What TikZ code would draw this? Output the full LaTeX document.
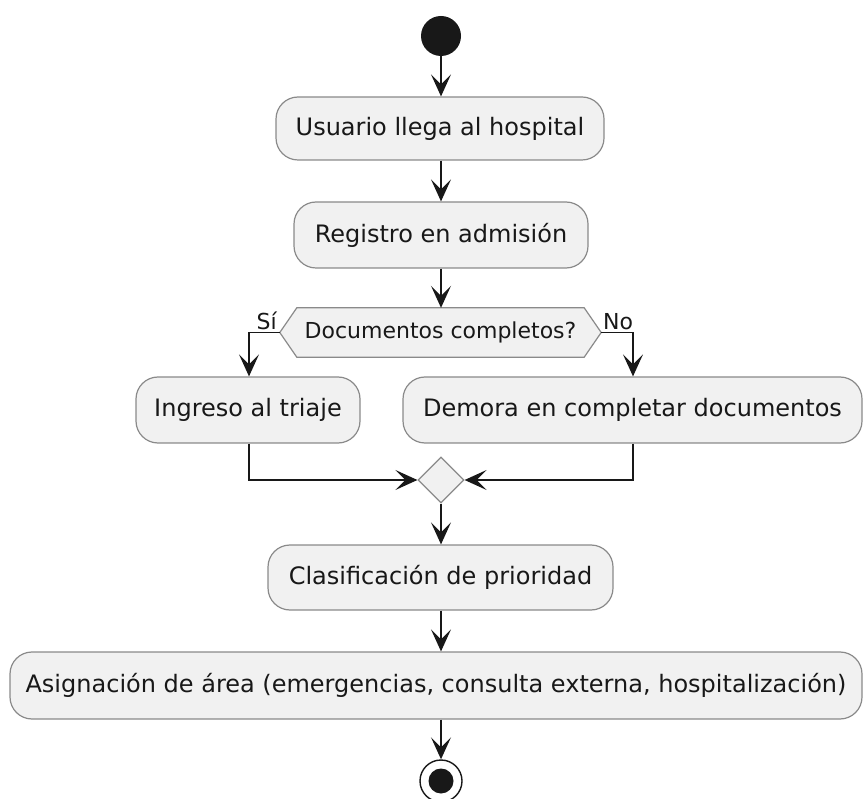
\documentclass[tikz,border=0pt]{standalone}
\usepackage{fontspec}
\setmainfont{DejaVu Sans}
\usetikzlibrary{arrows.meta,calc,shapes.geometric}
\definecolor{boxfill}{HTML}{F1F1F1}
\definecolor{boxline}{HTML}{8A8A8A}
\definecolor{ink}{HTML}{181818}
\tikzset{
  act/.style={draw=boxline, fill=boxfill, line width=1.2pt, rounded corners=22pt, font=\fontsize{24}{28}\selectfont, text=ink, inner sep=0pt},
  flow/.style={draw=ink, line width=1.6pt, -{Stealth[length=22pt,width=20pt,inset=10pt]}},
  lbl/.style={font=\fontsize{22}{26}\selectfont, text=ink, inner sep=0pt}
}
\begin{document}
\begin{tikzpicture}[x=1pt,y=-1pt]
\useasboundingbox (0,0) rectangle (865,799);
% start
\node (start) [circle, fill=ink, minimum size=40pt, inner sep=0pt] at (441,36) {};
% boxes
\node (b1) [act, minimum width=328pt, minimum height=63pt] at (440,128.5) {Usuario llega al hospital};
\node (b2) [act, minimum width=294pt, minimum height=66pt] at (441,235) {Registro en admisión};
% decision hexagon
\node (dec) [lbl, minimum width=321pt, minimum height=49pt] at (440.5,332.5) {};
\draw[draw=boxline, fill=boxfill, line width=1.2pt]
  (dec.west) -- ($(dec.north west)+(17,0)$) -- ($(dec.north east)+(-17,0)$) -- (dec.east)
  -- ($(dec.south east)+(-17,0)$) -- ($(dec.south west)+(17,0)$) -- cycle;
\node (dectext) [lbl] at (dec) {Documentos completos?};
\node (b3) [act, minimum width=224pt, minimum height=66pt] at (248,410) {Ingreso al triaje};
\node (b4) [act, minimum width=459pt, minimum height=66pt] at (632.5,410) {Demora en completar documentos};
\node (merge) [diamond, aspect=1, draw=boxline, fill=boxfill, line width=1.2pt, minimum size=46pt, inner sep=0pt] at (441,480) {};
\node (b5) [act, minimum width=345pt, minimum height=65pt] at (440.5,577.5) {Clasificación de prioridad};
\node (b6) [act, minimum width=852pt, minimum height=67pt] at (436,685.5) {Asignación de área (emergencias, consulta externa, hospitalización)};
% end
\node (end) [circle, draw=ink, fill=white, line width=1.4pt, minimum size=42pt, inner sep=0pt] at (441,781) {};
\node (endin) [circle, fill=ink, minimum size=25pt, inner sep=0pt] at (end) {};
% labels
\node (si) [lbl, anchor=south east] at (277,330) {Sí};
\node (no) [lbl, anchor=south west] at (603,330) {No};
% connectors
\coordinate (lc) at (249,332.5);
\coordinate (rc) at (633,332.5);
\coordinate (lm) at (249,480);
\coordinate (rm) at (633,480);
\draw[flow] (start) -- (start |- b1.north);
\draw[flow] (b1.south -| start) -- (start |- b2.north);
\draw[flow] (b2.south -| start) -- (start |- dec.north);
\draw[flow] (dec.west) -- (lc) -- (lc |- b3.north);
\draw[flow] (dec.east) -- (rc) -- (rc |- b4.north);
\draw[flow] (lc |- b3.south) -- (lm) -- (merge.west);
\draw[flow] (rc |- b4.south) -- (rm) -- (merge.east);
\draw[flow] (merge.south) -- (merge.south |- b5.north);
\draw[flow] (b5.south -| merge.south) -- (merge.south |- b6.north);
\draw[flow] (b6.south -| end.north) -- (end.north);
\end{tikzpicture}
\end{document}
